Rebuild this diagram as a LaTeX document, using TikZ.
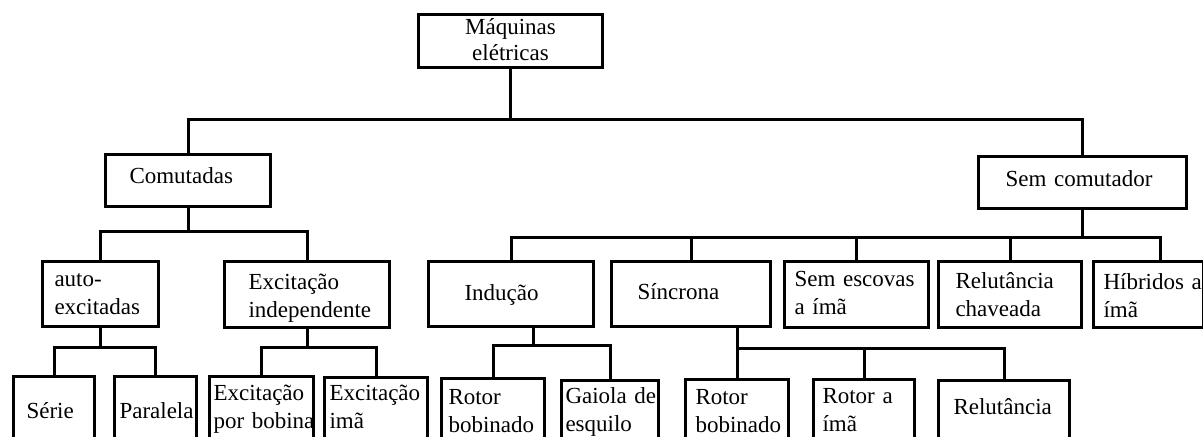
\documentclass[tikz,border=0pt]{standalone}
\usepackage{fontspec}
\setmainfont{Liberation Serif}
\usepackage{tikz}
\hyphenpenalty=10000
\exhyphenpenalty=10000
\newcommand{\tnr}{\fontsize{11.5}{14}\selectfont}
\tikzset{
cell/.style={
  draw,
  line width=1.5pt,
  anchor=north west,
  inner ysep=0pt,
  align=left,
  font=\tnr
},
caixa/.style n args={4}{cell,inner xsep=#1,text width=#2,text height=#3,text depth=#4},
link/.style={line width=1.5pt},
}

\begin{document}
\begin{tikzpicture}[x=0.5pt,y=-0.5pt]
\useasboundingbox (0,0) rectangle (1203,436);
\clip (0,0) rectangle (1203,436);
% the boxes, top level
\node[caixa={5pt}{82pt}{10pt}{16.5pt},align=center,font=\fontsize{11.5}{13}\selectfont] (maq) at (417,13) {Máquinas\\elétricas};
\node[caixa={12pt}{58.5pt}{14.5pt}{11.5pt}] (com) at (104,153) {Comutadas};
\node[caixa={13.5pt}{77pt}{15pt}{11pt}] (sem) at (977,155) {Sem comutador};
% second level
\node[caixa={6pt}{46pt}{12.5pt}{20pt}] (auto) at (41,260) {auto-\\excitadas};
\node[caixa={12pt}{58.5pt}{14pt}{19pt}] (indep) at (223,260) {Excitação\\independente};
\node[caixa={18pt}{46.5pt}{19.5pt}{13pt}] (ind) at (427,260) {Indução};
\node[caixa={13pt}{53.5pt}{19pt}{13.5pt}] (sin) at (610,260) {Síncrona};
\node[caixa={5pt}{62pt}{12.5pt}{20.5pt}] (esc) at (783,260) {Sem escovas\\a ímã};
\node[caixa={8.5pt}{54.5pt}{13.5pt}{19.5pt}] (rch) at (937,260) {Relutância\\chaveada};
\node[caixa={5pt}{45pt}{14pt}{19pt}] (hib) at (1092,260) {Híbridos~a\\ímã};
% third level
\node[caixa={6.5pt}{27.5pt}{21pt}{26.5pt}] (serie) at (12,375) {Série};
\node[caixa={2.5pt}{36pt}{21pt}{26.5pt}] (para) at (113,375) {Paralela};
\node[caixa={2pt}{48pt}{12pt}{35.5pt}] (bob) at (208,375) {Excitação\\por~bobina};
\node[caixa={2.5pt}{46.5pt}{11.5pt}{36pt}] (ima) at (323,376) {Excitação\\imã};
\node[caixa={3.5pt}{44.5pt}{13pt}{33.5pt}] (rb1) at (440,377) {Rotor\\bobinado};
\node[caixa={2pt}{44.5pt}{11.5pt}{34pt}] (gai) at (560,379) {Gaiola~de\\esquilo};
\node[caixa={5pt}{41.5pt}{12.5pt}{33.5pt}] (rb2) at (684,378) {Rotor\\bobinado};
\node[caixa={4.5pt}{41.5pt}{12pt}{34pt}] (rim) at (812,378) {Rotor~a\\ímã};
\node[caixa={7.5pt}{50.5pt}{17pt}{28.5pt}] (rel) at (937,379) {Relutância};
% the joints
\coordinate (indj) at (533,345);
% the connectors
\begin{scope}[link]
\draw (maq.south) -- (maq.south |- 0,119);
\draw (com.north) -- (com.north |- 0,119) -| (sem.north);
\draw (com.south) -- (com.south |- 0,231);
\draw (auto.north) -- (auto.north |- 0,231) -| (indep.north);
\draw (sem.south) -- (sem.south |- 0,237);
\draw (ind.north) -- (ind.north |- 0,237) -| (hib.north -| 1160,0);
\foreach \n in {sin,esc,rch}
  \draw (\n.north) -- (\n.north |- 0,237);
\draw (auto.south) -- (auto.south |- 0,347);
\draw (serie.north) -- (serie.north |- 0,347) -| (para.north);
\draw (indep.south) -- (indep.south |- 0,347);
\draw (bob.north) -- (bob.north |- 0,347) -| (ima.north);
\draw (ind.south -| indj) -- (indj);
\draw (rb1.north) -- (rb1.north |- indj) -| (gai.north);
\draw (sin.south -| rb2.north) -- (rb2.north |- 0,348);
\draw (rb2.north) -- (rb2.north |- 0,348) -| (rel.north);
\draw (rim.north) -- (rim.north |- 0,348);
\end{scope}
\end{tikzpicture}
\end{document}
